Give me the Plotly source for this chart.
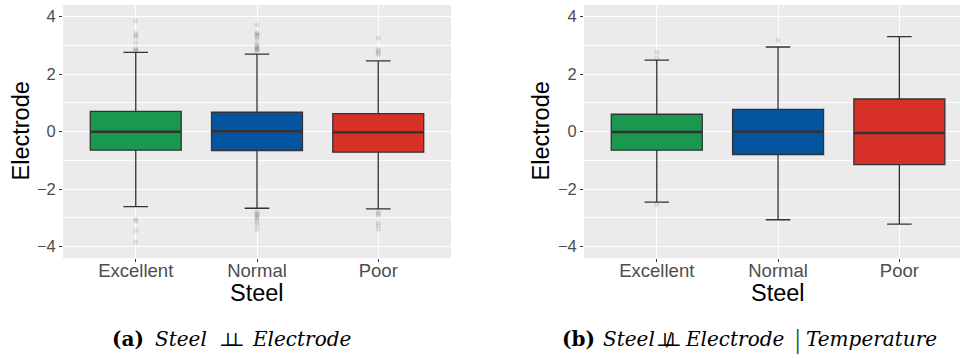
import plotly.graph_objects as go

# Steel quality categories and their fill colours
categories = ["Excellent", "Normal", "Poor"]
colors = ["#1A9850", "#0455A0", "#D73027"]

# (a) marginal: Electrode by Steel
a_q1 = [-0.65, -0.66, -0.72]
a_median = [-0.01, 0.01, -0.03]
a_q3 = [0.70, 0.67, 0.62]
a_low = [-2.61, -2.67, -2.69]
a_high = [2.75, 2.69, 2.46]
a_outliers = [
    [3.85, 3.42, 3.35, 3.28, 3.10, 2.88, 2.84, 2.82, -3.05, -3.12, -3.45, -3.85],
    [3.71, 3.43, 3.40, 3.36, 3.30, 3.20, 3.05, 2.98, 2.94, 2.90, 2.87, 2.84, 2.80,
     -2.78, -2.85, -2.90, -2.95, -3.00, -3.05, -3.15, -3.25, -3.40],
    [3.25, 2.85, 2.80, 2.72, 2.68, -2.78, -2.85, -2.92, -3.18, -3.28, -3.40],
]

# (b) conditional on Temperature
b_q1 = [-0.65, -0.80, -1.15]
b_median = [-0.02, -0.01, -0.05]
b_q3 = [0.60, 0.77, 1.13]
b_low = [-2.46, -3.07, -3.22]
b_high = [2.48, 2.94, 3.30]
b_outliers = [
    [2.75, 2.55, -2.55],
    [3.18],
    [],
]

y_ticks = [-4, -2, 0, 2, 4]
y_tick_text = ["\u22124", "\u22122", "0", "2", "4"]

W, H = 960, 358
fig = go.Figure()


def add_panel(xa, ya, q1, med, q3, lo, hi, outs):
    for i, cat in enumerate(categories):
        if outs[i]:
            fig.add_trace(go.Scatter(
                x=[cat] * len(outs[i]), y=outs[i], mode="markers",
                marker=dict(size=5, color="rgba(60,60,60,0.13)", line=dict(width=0)),
                xaxis=xa, yaxis=ya, showlegend=False, hoverinfo="skip"))
        fig.add_trace(go.Box(
            x=[cat], q1=[q1[i]], median=[med[i]], q3=[q3[i]],
            lowerfence=[lo[i]], upperfence=[hi[i]],
            width=0.75, whiskerwidth=0.27, boxpoints=False,
            fillcolor=colors[i], line=dict(color="#333333", width=1.3),
            xaxis=xa, yaxis=ya, showlegend=False))
    # thicker median bars
    fig.add_trace(go.Scatter(
        x=categories, y=med, mode="markers",
        marker=dict(symbol="line-ew", size=64.5,
                    line=dict(color="#333333", width=2.4)),
        xaxis=xa, yaxis=ya, showlegend=False, hoverinfo="skip"))


add_panel("x", "y", a_q1, a_median, a_q3, a_low, a_high, a_outliers)
add_panel("x2", "y2", b_q1, b_median, b_q3, b_low, b_high, b_outliers)

y_dom = [1 - 258 / H, 1 - 5 / H]
sans = "Liberation Sans, Arial, sans-serif"
xtick_font = dict(family=sans, size=18.5, color="#4D4D4D")
ytick_font = dict(family=sans, size=16.5, color="#4D4D4D")

xcommon = dict(type="category", categoryorder="array", categoryarray=categories,
               showgrid=True, gridcolor="white", gridwidth=1.2,
               ticks="outside", ticklen=3, tickcolor="#333333", tickwidth=1,
               tickfont=xtick_font, ticklabelstandoff=-7,
               zeroline=False, showline=False, fixedrange=True)
ycommon = dict(range=[-4.4, 4.4], tickvals=y_ticks, ticktext=y_tick_text,
               showgrid=True, gridcolor="white", gridwidth=1.2,
               minor=dict(tickvals=[-3, -1, 1, 3], showgrid=True,
                          gridcolor="white", gridwidth=0.6),
               ticks="outside", ticklen=3, tickcolor="#333333", tickwidth=1,
               tickfont=ytick_font, zeroline=False, showline=False, domain=y_dom)

fig.update_layout(
    width=W, height=H,
    margin=dict(l=0, r=0, t=0, b=0),
    paper_bgcolor="white", plot_bgcolor="#EBEBEB",
    boxmode="overlay",
    xaxis=dict(domain=[63 / W, 451 / W], range=[-0.6, 2.6], anchor="y", **xcommon),
    yaxis=dict(anchor="x", **ycommon),
    xaxis2=dict(domain=[584 / W, 1.0], range=[-0.6, 2.5], anchor="y2", **xcommon),
    yaxis2=dict(anchor="x2", **ycommon),
)

title_font = dict(family=sans, size=23.5, color="black")
for xc, xs in [(21, 257), (541, 778)]:
    fig.add_annotation(text="Electrode", x=xc / W, y=1 - 131.5 / H, xref="paper", yref="paper",
                       textangle=-90, showarrow=False, font=title_font,
                       xanchor="center", yanchor="middle")
    fig.add_annotation(text="Steel", x=xs / W, y=1 - 293 / H, xref="paper", yref="paper",
                       showarrow=False, font=title_font, xanchor="center", yanchor="middle")

# sub-figure captions, set piece by piece
serif = "DejaVu Serif, Liberation Serif, serif"
cap_font = dict(family=serif, size=20, color="black")
perp_font = dict(family="DejaVu Serif, serif", size=19, color="black")
cap_y = 1 - 339 / H


def cap(text, x, anchor="left", font=cap_font, dy=0):
    fig.add_annotation(text=text, x=x / W, y=cap_y, yshift=dy, xref="paper", yref="paper",
                       showarrow=False, font=font, xanchor=anchor, yanchor="middle")


# independence sign: two up-tacks pulled together so they share one base;
# the negated form carries a slash between them
cap("<b>(a)</b>", 110)
cap("<i>Steel</i>", 153)
cap('<span style="letter-spacing:-10px">\u22A5\u22A5</span>', 231, "center", perp_font)
cap("<i>Electrode</i>", 250)

cap("<b>(b)</b>", 560)
cap("<i>Steel</i>", 601)
cap('<span style="letter-spacing:-8.2px">\u22A5/\u22A5</span>', 668, "center", perp_font)
cap("<i>Electrode</i>", 683)
cap("|", 797, "center", dict(family="Liberation Serif, serif", size=27, color="#333333"))
cap("<i>Temperature</i>", 804)

fig.write_html("out.html")
